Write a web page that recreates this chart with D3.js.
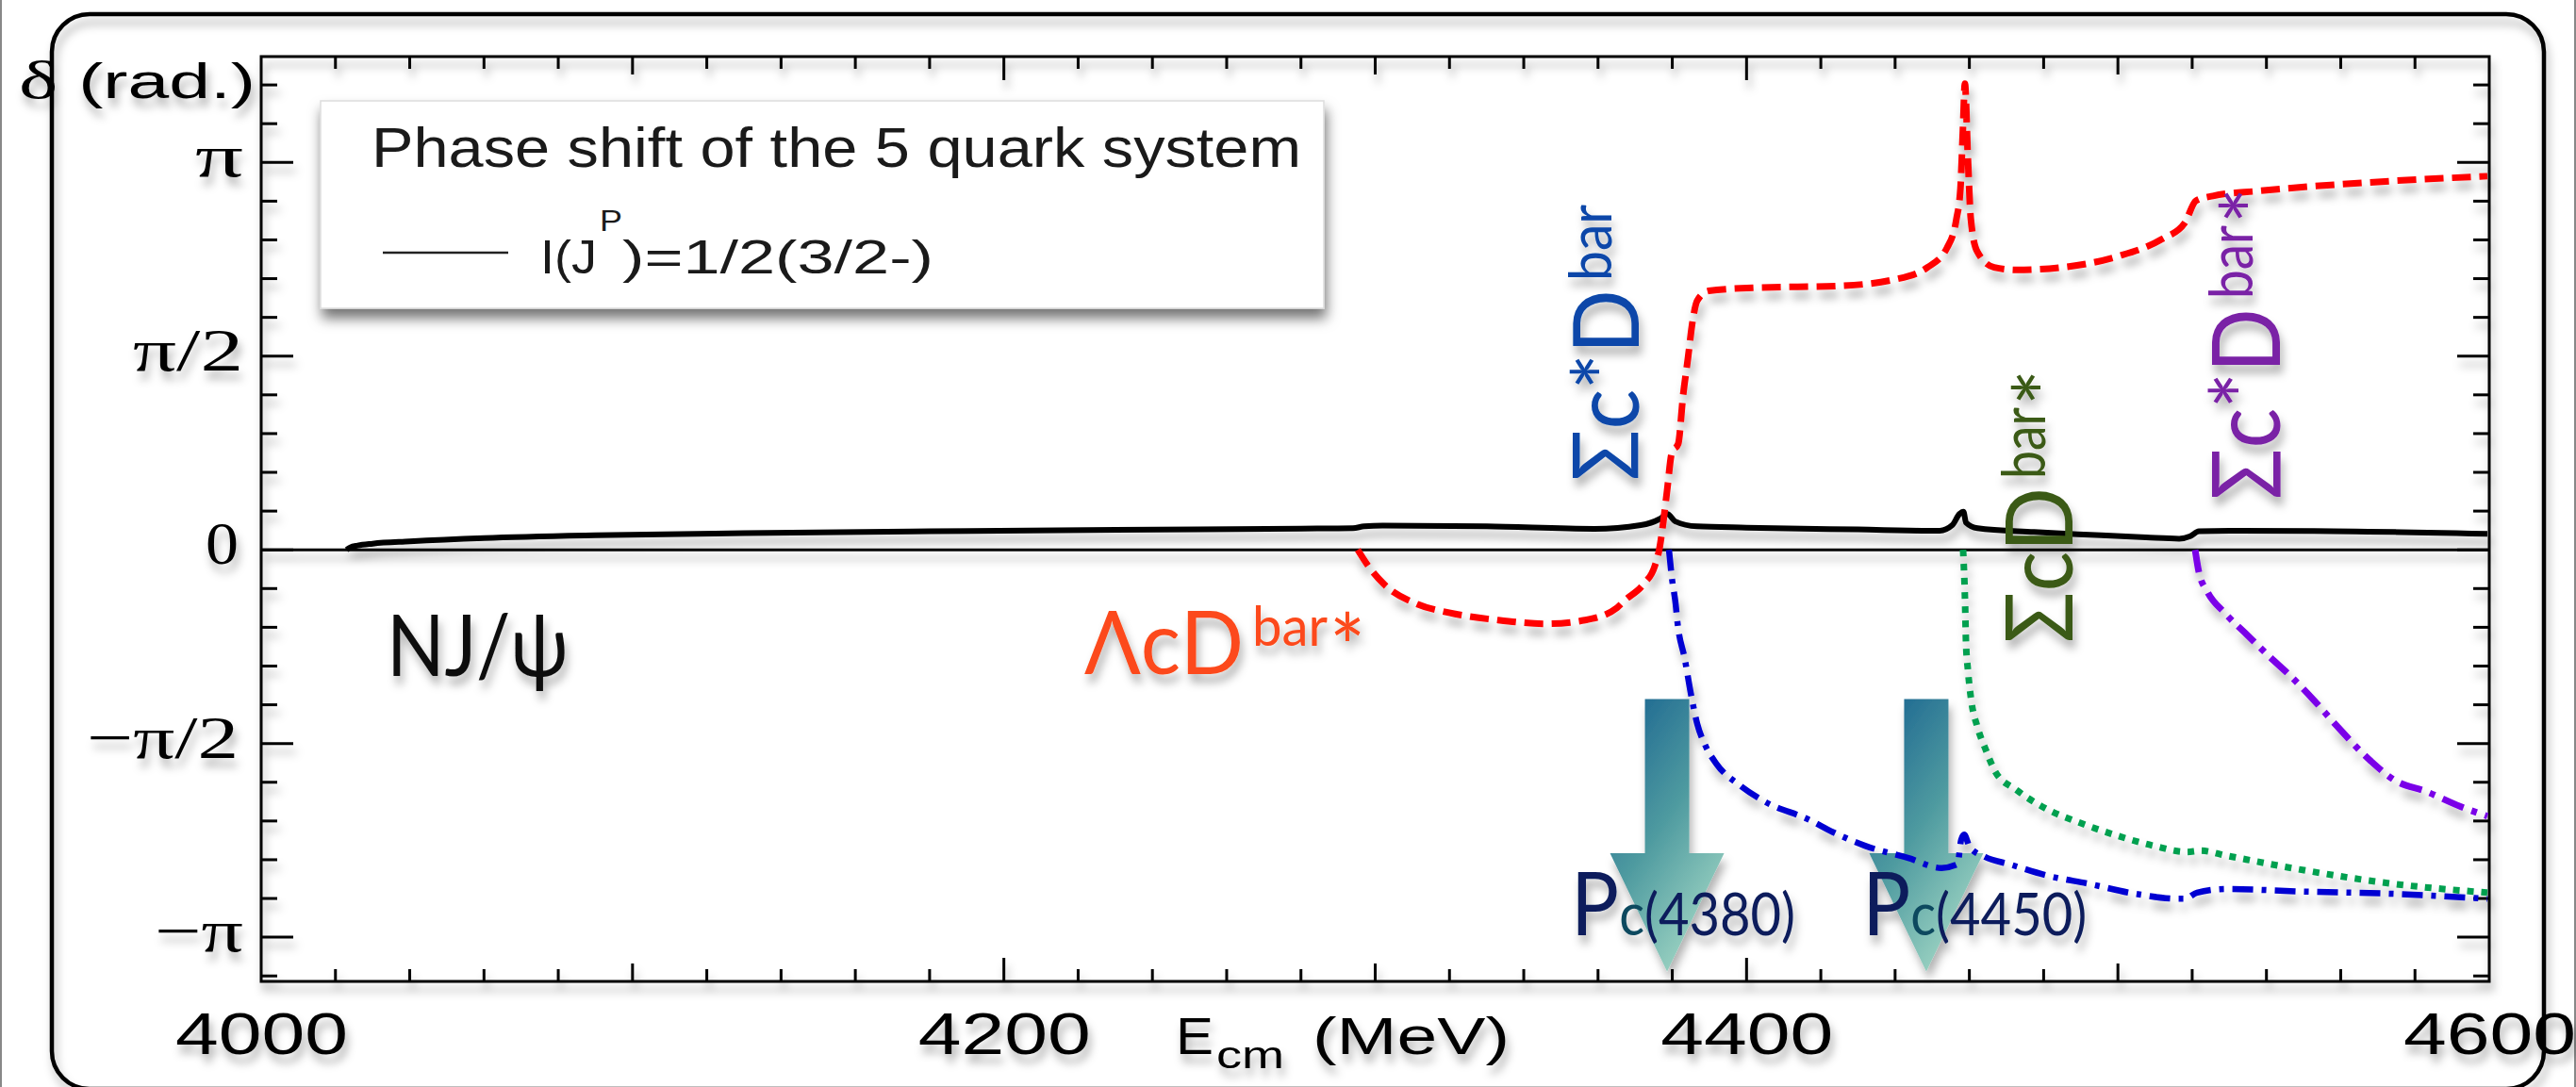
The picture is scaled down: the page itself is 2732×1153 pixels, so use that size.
<!DOCTYPE html>
<html>
<head>
<meta charset="utf-8">
<script src="https://cdn.jsdelivr.net/npm/d3@7"></script>
<style>
  html, body { margin: 0; padding: 0; background: #fff; }
  svg { display: block; }
</style>
</head>
<body>
<svg id="chart" width="2732" height="1153"></svg>
<script>
// phase shifts: [E_cm (MeV), delta (rad)]
const blackPhase = [
  [4023, 0], [4024, 0.02], [4026, 0.035], [4030, 0.05], [4040, 0.068], [4060, 0.095],
  [4090, 0.118], [4130, 0.135], [4180, 0.15], [4230, 0.162], [4280, 0.172], [4294, 0.176],
  [4297, 0.19], [4302, 0.196], [4330, 0.19], [4359, 0.17], [4371.5, 0.2], [4376.6, 0.25],
  [4378.7, 0.29], [4380.8, 0.23], [4386.7, 0.19], [4400, 0.18], [4430, 0.165], [4452, 0.155],
  [4455.4, 0.2], [4457.3, 0.29], [4458.4, 0.31], [4459.1, 0.22], [4462.2, 0.175], [4477.4, 0.145],
  [4492.4, 0.122], [4507.6, 0.1], [4516.5, 0.09], [4519.5, 0.11], [4521.8, 0.15], [4530, 0.155],
  [4552.8, 0.153], [4599.5, 0.13]
];
const lambdaDstar = [
  [4295.3, 0], [4298.1, -0.13], [4302.4, -0.28], [4311.3, -0.44], [4319.9, -0.51], [4333.1, -0.57],
  [4346.3, -0.6], [4356.5, -0.57], [4365.1, -0.47], [4367.2, -0.41], [4372.2, -0.28], [4375.3, -0.13],
  [4376.6, 0.02], [4377.6, 0.23], [4378.6, 0.48], [4379.9, 0.79], [4381.6, 0.86], [4382.9, 1.25],
  [4384.2, 1.55], [4385.5, 1.86], [4386.7, 2.02], [4389.8, 2.1], [4401.7, 2.125], [4424.6, 2.14],
  [4439.5, 2.19], [4448.7, 2.29], [4454, 2.45], [4456.5, 2.68], [4457.6, 2.93], [4458.3, 3.44],
  [4458.8, 3.78], [4459.6, 3.18], [4460.4, 2.68], [4462.1, 2.42], [4466.7, 2.29], [4472.8, 2.27],
  [4484.7, 2.29], [4500, 2.38], [4511.9, 2.52], [4518, 2.65], [4521, 2.83], [4525.6, 2.87],
  [4537.8, 2.91], [4567.8, 2.98], [4599.5, 3.03]
];
const sigmaStarD = [
  [4379.1, 0], [4379.9, -0.23], [4380.9, -0.44], [4381.4, -0.59], [4383.4, -0.89], [4384.9, -1.15],
  [4386.7, -1.41], [4388.8, -1.58], [4392, -1.74], [4398.2, -1.91], [4404.8, -2.04], [4416.9, -2.19],
  [4423.3, -2.29], [4431.9, -2.4], [4443.6, -2.5], [4452.5, -2.58], [4456.8, -2.55], [4457.8, -2.35],
  [4458.6, -2.31], [4460.1, -2.41], [4464.2, -2.49], [4470.8, -2.55], [4480.7, -2.64], [4492.4, -2.71],
  [4504.8, -2.79], [4516.5, -2.83], [4518, -2.83], [4521.3, -2.78], [4529.2, -2.75], [4548.5, -2.77],
  [4574.6, -2.79], [4599.5, -2.83]
];
const sigmaDstar = [
  [4458.3, 0], [4458.8, -0.38], [4459.1, -0.76], [4459.6, -0.97], [4460.6, -1.24], [4462.1, -1.43],
  [4464.4, -1.62], [4467, -1.8], [4472.8, -1.95], [4480.7, -2.1], [4490.3, -2.22], [4500, -2.32],
  [4509.6, -2.4], [4518.5, -2.45], [4522.3, -2.44], [4529.2, -2.48], [4548.5, -2.59], [4574.6, -2.71],
  [4599.5, -2.78]
];
const sigmaStarDstar = [
  [4520.8, 0], [4521.8, -0.18], [4524.1, -0.34], [4528.7, -0.51], [4534.8, -0.69], [4540.6, -0.86],
  [4546.7, -1.03], [4552.8, -1.22], [4558.4, -1.41], [4568, -1.71], [4574.6, -1.87], [4583, -1.96],
  [4592.1, -2.08], [4599.5, -2.16]
];
const xTickValues = [4000, 4200, 4400, 4600];
const yTickValues = [Math.PI, Math.PI / 2, 0, -Math.PI / 2, -Math.PI];
const yTickText = ["π", "π/2", "0", "−π/2", "−π"];
const pcStates = ["4380", "4450"];
const pcEnergy = [4378.6, 4448.4];
const pcLabelEnergy = [4352.7, 4431.2];

const sansFont = "'Liberation Sans', Arial, sans-serif";
const serifFont = "'Liberation Serif', 'Times New Roman', serif";
const gillFont = "Lato, 'Open Sans', 'DejaVu Sans', sans-serif";

const svg = d3.select("#chart");
const m = { left: 277, right: 2640, top: 60, bottom: 1041 };
const x = d3.scaleLinear().domain([4000, 4600]).range([m.left, m.right]);
const y = d3.scaleLinear().domain([-3.5, 4.0]).range([m.bottom, m.top]);

const defs = svg.append("defs");
defs.append("filter").attr("id", "shadow")
  .attr("filterUnits", "userSpaceOnUse").attr("x", 0).attr("y", 0).attr("width", 2732).attr("height", 1153)
  .append("feDropShadow").attr("dx", 3).attr("dy", 9).attr("stdDeviation", 5)
  .attr("flood-color", "#000").attr("flood-opacity", 0.3);
defs.append("filter").attr("id", "legendShadow")
  .attr("x", "-5%").attr("y", "-10%").attr("width", "115%").attr("height", "130%")
  .append("feDropShadow").attr("dx", 2).attr("dy", 10).attr("stdDeviation", 7)
  .attr("flood-color", "#000").attr("flood-opacity", 0.55);
const grad = defs.append("linearGradient").attr("id", "arrowGrad")
  .attr("x1", 0.1).attr("y1", 0).attr("x2", 0.7).attr("y2", 1);
grad.append("stop").attr("offset", 0).attr("stop-color", "#1a6490");
grad.append("stop").attr("offset", 0.5).attr("stop-color", "#4f9ba0");
grad.append("stop").attr("offset", 1).attr("stop-color", "#a3d8c5");

// image border
svg.append("line").attr("x1", 1).attr("x2", 1).attr("y1", 0).attr("y2", 1153).attr("stroke", "#888").attr("stroke-width", 2);
svg.append("line").attr("x1", 2731).attr("x2", 2731).attr("y1", 0).attr("y2", 1153).attr("stroke", "#888").attr("stroke-width", 2);

const root = svg.append("g").attr("filter", "url(#shadow)");

root.append("rect").attr("x", 55).attr("y", 15).attr("width", 2643).attr("height", 1140)
  .attr("rx", 40).attr("fill", "none").attr("stroke", "#000").attr("stroke-width", 4.5);

function txt(parent, s, px, py, size, family, fill, len) {
  const t = parent.append("text").attr("x", px).attr("y", py)
    .attr("font-size", size).attr("font-family", family).attr("fill", fill).text(s);
  if (len) t.attr("textLength", len).attr("lengthAdjust", "spacingAndGlyphs");
  return t;
}

// frame and ticks
const axes = root.append("g").attr("stroke", "#000").attr("stroke-width", 3);
axes.append("rect").attr("x", m.left).attr("y", m.top)
  .attr("width", m.right - m.left).attr("height", m.bottom - m.top).attr("fill", "none");

const xt = d3.range(4020, 4600, 20);
const xLen = v => v % 200 === 0 ? 25 : v % 100 === 0 ? 19 : 13;
axes.selectAll(".xb").data(xt).join("line")
  .attr("x1", d => x(d)).attr("x2", d => x(d)).attr("y1", m.bottom).attr("y2", d => m.bottom - xLen(d));
axes.selectAll(".xt").data(xt).join("line")
  .attr("x1", d => x(d)).attr("x2", d => x(d)).attr("y1", m.top).attr("y2", d => m.top + xLen(d));

const yt = d3.range(-11, 13);
const yLen = k => k % 5 === 0 ? 34 : 17;
axes.selectAll(".yl").data(yt).join("line")
  .attr("y1", k => y(k * Math.PI / 10)).attr("y2", k => y(k * Math.PI / 10))
  .attr("x1", m.left).attr("x2", k => m.left + yLen(k));
axes.selectAll(".yr").data(yt).join("line")
  .attr("y1", k => y(k * Math.PI / 10)).attr("y2", k => y(k * Math.PI / 10))
  .attr("x1", m.right).attr("x2", k => m.right - yLen(k));

// zero line
root.append("line").attr("x1", m.left).attr("x2", m.right).attr("y1", y(0)).attr("y2", y(0))
  .attr("stroke", "#000").attr("stroke-width", 3);

// tick labels
xTickValues.forEach(v => txt(root, String(v), x(v) - 91, 1118, 63, sansFont, "#000", 183));
const yLabelLen = [51, 117, 35, 161, 94];
const yLabelRight = [258, 258, 253, 253, 258];
yTickValues.forEach((v, i) =>
  txt(root, yTickText[i], yLabelRight[i] - yLabelLen[i], y(v) + 15, 64, serifFont, "#000", yLabelLen[i]));

const dl = root.append("text").attr("x", 20).attr("y", 104).attr("font-size", 52)
  .attr("textLength", 251).attr("lengthAdjust", "spacingAndGlyphs");
dl.append("tspan").attr("font-family", serifFont).attr("font-size", 58).text("δ");
dl.append("tspan").attr("font-family", sansFont).text(" (rad.)");

txt(root, "E", 1247, 1118, 56, sansFont, "#000", 40);
txt(root, "cm", 1290, 1133, 40, sansFont, "#000", 72);
txt(root, "(MeV)", 1392, 1118, 56, sansFont, "#000", 209);

// Pc arrows
const arrowTop = -1.21, headTop = -2.46, apex = -3.42;
pcEnergy.forEach(e => {
  const cx = x(e);
  const p = d3.path();
  p.moveTo(cx - 23.5, y(arrowTop));
  p.lineTo(cx + 23.5, y(arrowTop));
  p.lineTo(cx + 23.5, y(headTop));
  p.lineTo(cx + 60.5, y(headTop));
  p.lineTo(cx, y(apex));
  p.lineTo(cx - 60.5, y(headTop));
  p.lineTo(cx - 23.5, y(headTop));
  p.closePath();
  root.append("path").attr("d", p.toString()).attr("fill", "url(#arrowGrad)");
});

// curves
const line = d3.line().x(d => x(d[0])).y(d => y(d[1])).curve(d3.curveMonotoneX);
const series = [
  { data: blackPhase, color: "#000", width: 6, dash: null },
  { data: lambdaDstar, color: "#ff0000", width: 7, dash: "20,9" },
  { data: sigmaStarD, color: "#0000d2", width: 6.5, dash: "22,9,5,9" },
  { data: sigmaDstar, color: "#00a050", width: 7, dash: "7,8" },
  { data: sigmaStarDstar, color: "#7a00e8", width: 7, dash: "24,9,6,9" }
];
series.forEach(s => {
  root.append("path").attr("d", line(s.data)).attr("fill", "none")
    .attr("stroke", s.color).attr("stroke-width", s.width)
    .attr("stroke-dasharray", s.dash).attr("stroke-linejoin", "round");
});

// channel labels
txt(root, "NJ/ψ", 410, 717, 92, gillFont, "#111", 193);
txt(root, "ΛcD", 1150, 715, 94, gillFont, "#fc4a1a", 169);
txt(root, "bar", 1328, 685, 58, gillFont, "#fc4a1a", 80);
txt(root, "*", 1410, 722, 96, gillFont, "#fc4a1a", 38);

function vlabel(bx, by, main, mainSize, mainLen, sup, supStart, supLen, star, color) {
  const g = root.append("g").attr("transform", `translate(${bx},${by}) rotate(-90)`);
  txt(g, main, 0, 0, mainSize, gillFont, color, mainLen);
  txt(g, sup, supStart, -29, Math.round(mainSize * 0.64), gillFont, color, supLen);
  if (star) txt(g, "*", supStart + supLen + 2, 8, 96, gillFont, color, 38);
}
vlabel(1738, 510, "Σc*D", 96, 203, "bar", 212, 81, false, "#0a47a9");
vlabel(2198, 682, "ΣcD", 98, 165, "bar", 174, 76, true, "#3b5a17");
vlabel(2418, 530, "Σc*D", 100, 203, "bar", 213, 78, true, "#7a22a6");

// Pc labels, one text each
pcStates.forEach((s, i) => {
  const t = root.append("text").attr("x", x(pcLabelEnergy[i])).attr("y", 992)
    .attr("font-family", gillFont).attr("fill", "#0c1e5b")
    .attr("textLength", 238).attr("lengthAdjust", "spacingAndGlyphs");
  t.append("tspan").attr("font-size", 94).text("P");
  t.append("tspan").attr("font-size", 62).attr("fill", "#0d4a5f").text("c");
  t.append("tspan").attr("font-size", 62).text(`(${s})`);
});

// legend
const lg = svg.append("g");
lg.append("rect").attr("x", 340).attr("y", 107).attr("width", 1064).attr("height", 220)
  .attr("fill", "#fff").attr("stroke", "#ddd").attr("stroke-width", 1.5).attr("filter", "url(#legendShadow)");
txt(lg, "Phase shift of the 5 quark system", 394, 177, 60, sansFont, "#1a1a1a", 986);
lg.append("line").attr("x1", 406).attr("x2", 539).attr("y1", 268).attr("y2", 268)
  .attr("stroke", "#222").attr("stroke-width", 2.5);
txt(lg, "I(J", 573, 290, 50, sansFont, "#1a1a1a", 60);
txt(lg, "P", 636, 245, 32, sansFont, "#1a1a1a", 24);
txt(lg, ")=1/2(3/2-)", 660, 290, 50, sansFont, "#1a1a1a", 330);
</script>
</body>
</html>
